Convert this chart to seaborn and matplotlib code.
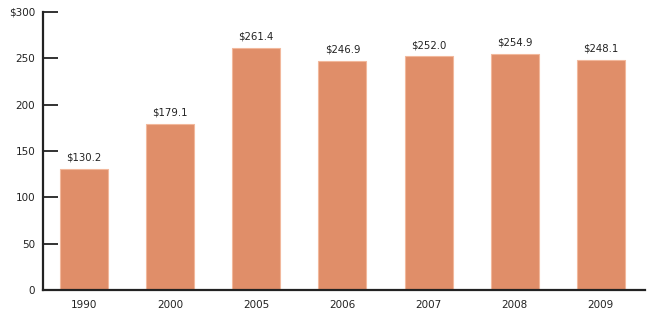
import matplotlib
matplotlib.use("Agg")
import matplotlib.pyplot as plt
import seaborn as sns
import pandas as pd

years = ["1990", "2000", "2005", "2006", "2007", "2008", "2009"]
values = [130.2, 179.1, 261.4, 246.9, 252.0, 254.9, 248.1]
ytick_values = [0, 50, 100, 150, 200, 250, 300]
ytick_labels = ["0", "50", "100", "150", "200", "250", "$300"]

sns.set_style("white")
plt.rcParams['font.family'] = ['DejaVu Sans']

df = pd.DataFrame({"year": years, "value": values})

fig = plt.figure(figsize=(6.5, 3.13), dpi=100)
ax = fig.add_axes([0.066, 0.074, 0.926, 0.888])
sns.barplot(data=df, x="year", y="value", color="#E08E69", width=0.557,
            edgecolor="#F2B89C", linewidth=0.8, saturation=1, ax=ax)

for i, v in enumerate(values):
    ax.annotate(f"${v:.1f}", (i, v), xytext=(0, 4.5), textcoords="offset points",
                ha="center", va="bottom", fontsize=7.3, color="#222222")

ax.set_ylim(0, 300)
ax.set_xlim(-0.476, 6.51)
ax.set_yticks(ytick_values)
ax.set_yticklabels(ytick_labels)
ax.set_xlabel("")
ax.set_ylabel("")
for s in ["top", "right"]:
    ax.spines[s].set_visible(False)
for s in ["left", "bottom"]:
    ax.spines[s].set_linewidth(1.6)
    ax.spines[s].set_color("#222222")
ax.tick_params(axis="y", left=True, direction="in", length=11, width=1.3, color="#222222",
               labelsize=7.5, labelcolor="#222222", pad=5.5)
ax.tick_params(axis="x", bottom=False, length=0, labelsize=7.5, labelcolor="#222222", pad=7)
fig.savefig("out.png", dpi=100)
